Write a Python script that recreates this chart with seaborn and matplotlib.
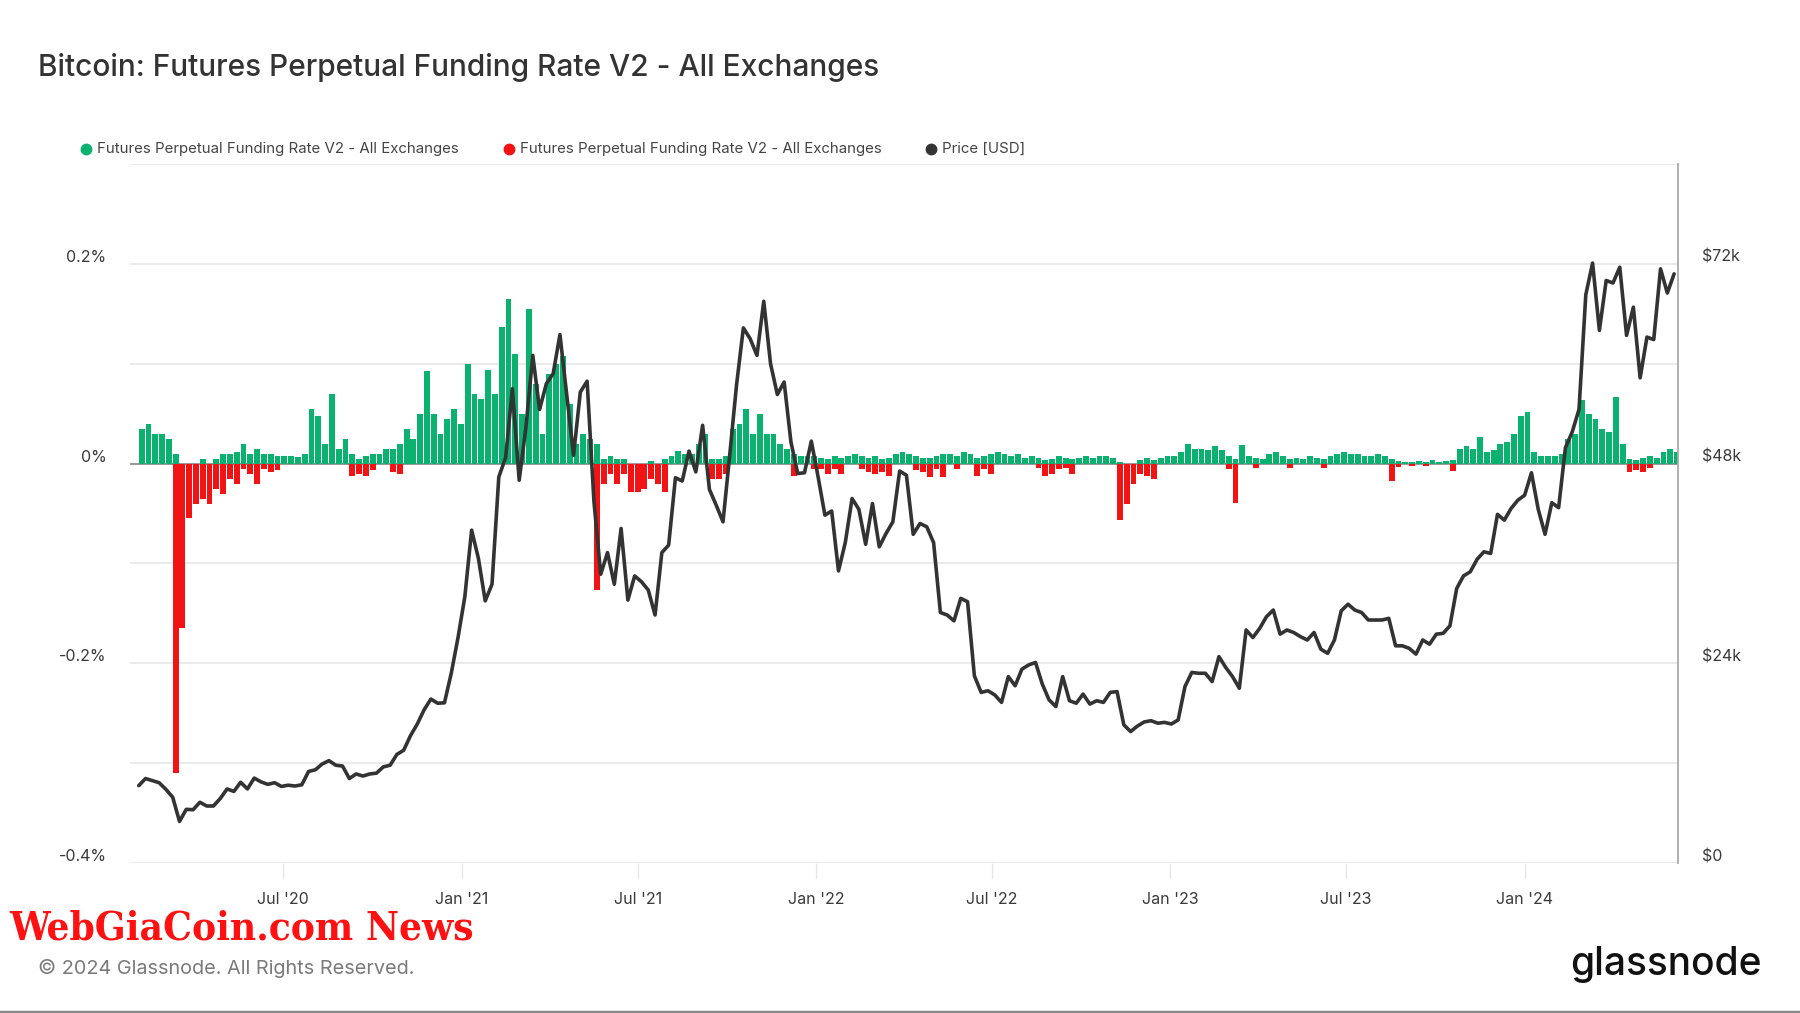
import numpy as np
import pandas as pd
import matplotlib
matplotlib.use("Agg")
import matplotlib.pyplot as plt
from matplotlib.lines import Line2D
from matplotlib.transforms import ScaledTranslation
import seaborn as sns

# ---------------- data (weekly samples, first week starts 2020-02-03) ----------------
price_usd = [
    # 2020
    9300, 10150, 9900, 9650, 8850, 7900, 5000, 6450, 6400, 7300, 6850, 6850,
    7750, 8900, 8600, 9700, 8900, 10200, 9750, 9450, 9650, 9200, 9350, 9250,
    9400, 11000, 11200, 11900, 12300, 11750, 11650, 10150, 10700, 10450, 10700, 10800,
    11550, 11750, 13050, 13550, 15300, 16700, 18400, 19700, 19200, 19250, 22800, 27100,
    # 2021
    32000, 40000, 36600, 31500, 33500, 46400, 48700, 57000, 46000, 52400, 61000, 54500,
    57600, 58800, 63500, 56200, 49000, 56600, 57900, 43500, 34700, 37300, 33500, 40200,
    31600, 34500, 33800, 32800, 29800, 37300, 38200, 46300, 45900, 49500, 47000, 52600,
    44900, 43000, 41000, 49100, 57500, 64300, 63000, 61000, 67500, 60000, 56300, 57800,
    50600, 46800, 46900, 50700,
    # 2022
    46400, 41800, 42300, 35100, 38500, 43800, 42500, 38300, 43200, 38000, 39600, 41000,
    47100, 46600, 39500, 40800, 40400, 38500, 30100, 29800, 29100, 31800, 31400, 22500,
    20500, 20700, 20200, 19300, 22400, 21300, 23300, 23800, 24100, 21500, 19600, 18800,
    22400, 19500, 19200, 20300, 19100, 19500, 19300, 20500, 20600, 16600, 15800, 16450,
    16950, 17100, 16800, 16900, 16700,
    # 2023
    17200, 21200, 22900, 22800, 22800, 21800, 24800, 23500, 22400, 21000, 28000, 27100,
    28200, 29600, 30400, 27500, 28000, 27700, 27200, 26800, 27700, 25700, 25200, 26800,
    30300, 31100, 30400, 30100, 29200, 29200, 29200, 29400, 26100, 26100, 25800, 25100,
    26800, 26300, 27500, 27600, 28500, 33000, 34500, 35000, 36500, 37400, 37200, 41900,
    41200, 42600, 43600,
    # 2024
    44200, 46900, 42500, 39500, 43300, 42700, 49900, 51800, 54500, 68300, 72100, 64000,
    70000, 69700, 71600, 63400, 66800, 58300, 63200, 62900, 71400, 68500, 70800,
]

funding_pos = [
    # 2020
    0.035, 0.040, 0.030, 0.030, 0.025, 0.010, 0.000, 0.000, 0.000, 0.005, 0.000, 0.005,
    0.010, 0.010, 0.012, 0.020, 0.010, 0.015, 0.010, 0.010, 0.008, 0.008, 0.008, 0.007,
    0.010, 0.055, 0.048, 0.020, 0.070, 0.015, 0.025, 0.010, 0.005, 0.008, 0.010, 0.010,
    0.015, 0.015, 0.020, 0.035, 0.025, 0.050, 0.093, 0.050, 0.030, 0.045, 0.055, 0.040,
    # 2021
    0.100, 0.070, 0.065, 0.094, 0.070, 0.137, 0.165, 0.110, 0.050, 0.155, 0.080, 0.030,
    0.090, 0.100, 0.108, 0.060, 0.020, 0.030, 0.025, 0.020, 0.005, 0.008, 0.005, 0.005,
    0.000, 0.000, 0.000, 0.003, 0.000, 0.005, 0.008, 0.013, 0.010, 0.010, 0.020, 0.030,
    0.005, 0.005, 0.008, 0.035, 0.040, 0.055, 0.030, 0.050, 0.030, 0.030, 0.020, 0.015,
    0.010, 0.008, 0.008, 0.008,
    # 2022
    0.006, 0.005, 0.008, 0.006, 0.008, 0.010, 0.008, 0.006, 0.008, 0.005, 0.006, 0.010,
    0.012, 0.010, 0.008, 0.006, 0.006, 0.008, 0.010, 0.010, 0.008, 0.012, 0.010, 0.006,
    0.008, 0.010, 0.012, 0.010, 0.008, 0.010, 0.006, 0.008, 0.006, 0.004, 0.005, 0.008,
    0.006, 0.005, 0.006, 0.008, 0.006, 0.008, 0.008, 0.006, 0.002, 0.000, 0.000, 0.004,
    0.006, 0.004, 0.006, 0.008, 0.008,
    # 2023
    0.012, 0.020, 0.015, 0.015, 0.014, 0.018, 0.014, 0.008, 0.005, 0.019, 0.008, 0.006,
    0.005, 0.010, 0.012, 0.008, 0.005, 0.006, 0.005, 0.008, 0.006, 0.005, 0.008, 0.010,
    0.012, 0.010, 0.010, 0.008, 0.008, 0.010, 0.008, 0.005, 0.003, 0.002, 0.002, 0.003,
    0.002, 0.004, 0.002, 0.003, 0.004, 0.015, 0.018, 0.015, 0.027, 0.012, 0.014, 0.020,
    0.022, 0.030, 0.048,
    # 2024
    0.052, 0.012, 0.008, 0.008, 0.008, 0.010, 0.025, 0.030, 0.064, 0.050, 0.045, 0.035,
    0.032, 0.067, 0.020, 0.005, 0.004, 0.006, 0.008, 0.006, 0.012, 0.015, 0.012,
]

funding_neg = [
    # 2020
    0.000, 0.000, 0.000, 0.000, 0.000, -0.310, -0.165, -0.055, -0.040, -0.035, -0.040, -0.025,
    -0.030, -0.015, -0.020, -0.005, -0.010, -0.020, -0.005, -0.008, -0.006, 0.000, 0.000, 0.000,
    0.000, 0.000, 0.000, 0.000, 0.000, 0.000, 0.000, -0.012, -0.010, -0.012, -0.006, 0.000,
    0.000, -0.008, -0.010, 0.000, 0.000, 0.000, 0.000, 0.000, 0.000, 0.000, 0.000, 0.000,
    # 2021
    0.000, 0.000, 0.000, 0.000, 0.000, 0.000, 0.000, 0.000, 0.000, 0.000, 0.000, 0.000,
    0.000, 0.000, 0.000, 0.000, 0.000, 0.000, 0.000, -0.127, -0.020, -0.010, -0.020, -0.010,
    -0.028, -0.028, -0.025, -0.015, -0.020, -0.028, 0.000, 0.000, 0.000, 0.000, 0.000, 0.000,
    -0.015, -0.015, -0.010, 0.000, 0.000, 0.000, 0.000, 0.000, 0.000, 0.000, 0.000, 0.000,
    -0.012, 0.000, 0.000, -0.005,
    # 2022
    -0.005, -0.010, -0.005, -0.010, 0.000, 0.000, -0.005, -0.008, -0.010, -0.008, -0.012, 0.000,
    0.000, 0.000, -0.006, -0.008, -0.013, -0.005, -0.013, 0.000, -0.005, 0.000, 0.000, -0.012,
    -0.005, -0.010, 0.000, 0.000, 0.000, 0.000, 0.000, 0.000, -0.004, -0.012, -0.010, -0.005,
    -0.004, -0.010, 0.000, 0.000, 0.000, 0.000, 0.000, 0.000, -0.057, -0.040, -0.020, -0.010,
    -0.012, -0.015, 0.000, 0.000, 0.000,
    # 2023
    0.000, 0.000, 0.000, 0.000, 0.000, 0.000, 0.000, -0.005, -0.039, 0.000, 0.000, -0.004,
    0.000, 0.000, 0.000, 0.000, -0.004, 0.000, 0.000, 0.000, 0.000, -0.004, 0.000, 0.000,
    0.000, 0.000, 0.000, 0.000, 0.000, 0.000, 0.000, -0.017, -0.003, 0.000, -0.002, 0.000,
    -0.002, 0.000, 0.000, 0.000, -0.007, 0.000, 0.000, 0.000, 0.000, 0.000, 0.000, 0.000,
    0.000, 0.000, 0.000,
    # 2024
    0.000, 0.000, 0.000, 0.000, 0.000, 0.000, 0.000, 0.000, 0.000, 0.000, 0.000, 0.000,
    0.000, 0.000, 0.000, -0.008, -0.006, -0.008, -0.004, 0.000, 0.000, 0.000, 0.000,
]

left_tick_values = [-0.4, -0.2, 0.0, 0.2]
left_tick_labels = ["-0.4%", "-0.2%", "0%", "0.2%"]
right_tick_values = [0, 24000, 48000, 72000]
right_tick_labels = ["$0", "$24k", "$48k", "$72k"]
x_tick_dates = ["2020-07-01", "2021-01-01", "2021-07-01", "2022-01-01",
                "2022-07-01", "2023-01-01", "2023-07-01", "2024-01-01"]
x_tick_labels = ["Jul '20", "Jan '21", "Jul '21", "Jan '22",
                 "Jul '22", "Jan '23", "Jul '23", "Jan '24"]

series_label = "Futures Perpetual Funding Rate V2 - All Exchanges"
title = "Bitcoin: Futures Perpetual Funding Rate V2 - All Exchanges"

df = pd.DataFrame({
    "date": pd.date_range("2020-02-03", periods=len(price_usd), freq="7D"),
    "price": price_usd,
    "pos": funding_pos,
    "neg": funding_neg,
})

# ---------------- style ----------------
sns.set_theme(style="white")
plt.rcParams["font.family"] = ["Inter", "DejaVu Sans"]

GREEN = "#0bb26f"
RED = "#f21414"
DARK = "#333333"
GRID = "#e6e6e6"
TXT = "#3a3a3a"

fig = plt.figure(figsize=(18, 10.13), dpi=100)
ax = fig.add_axes([130 / 1800, 1 - 863 / 1013, (1678 - 130) / 1800, (863 - 164) / 1013])
ax2 = ax.twinx()

# horizontal grid every 0.1 %
for gy in np.round(np.arange(-0.4, 0.31, 0.1), 2):
    ax.axhline(gy, color=GRID, lw=1.2, zorder=0)

# bars (each bar spans its week)
ax.bar(df["date"], df["pos"], width=6, align="edge", color=GREEN, linewidth=0, zorder=3)
ax.bar(df["date"], df["neg"], width=6, align="edge", color=RED, linewidth=0, zorder=3)
ax.axhline(0, color="#8a8a8a", lw=1.2, zorder=2)

# price
sns.lineplot(data=df, x="date", y="price", ax=ax2, color=DARK, lw=2.6, zorder=5)

# axes limits
x0, x1 = pd.Timestamp("2020-01-25"), pd.Timestamp("2024-06-07")
ax.set_xlim(x0, x1)
ax.set_ylim(-0.4, 0.3)
ax2.set_ylim(0, 84000)

for sp in ["left", "top", "bottom", "right"]:
    ax.spines[sp].set_visible(False)
    ax2.spines[sp].set_visible(False)
ax2.spines["right"].set_visible(True)
ax2.spines["right"].set_color("#aaaaaa")
ax2.spines["right"].set_linewidth(1.3)
ax.grid(False)
ax2.grid(False)

off = ScaledTranslation(0, 8 / 100, fig.dpi_scale_trans)

# left labels
ax.set_yticks(left_tick_values)
ax.set_yticklabels(left_tick_labels)
ax.tick_params(axis="y", length=0, pad=17, labelsize=11.5, labelcolor=TXT, left=True, labelleft=True)
for lab in ax.get_yticklabels():
    lab.set_transform(lab.get_transform() + off)

# right labels
ax2.set_yticks(right_tick_values)
ax2.set_yticklabels(right_tick_labels)
ax2.tick_params(axis="y", length=0, pad=17, labelsize=11.5, labelcolor=TXT)
for lab in ax2.get_yticklabels():
    lab.set_transform(lab.get_transform() + off)
ax2.set_ylabel("")
ax2.set_xlabel("")
ax.set_xlabel("")
ax.set_ylabel("")

# x ticks
ax.set_xticks(pd.to_datetime(x_tick_dates))
ax.set_xticklabels(x_tick_labels)
ax.tick_params(axis="x", direction="out", length=11, width=1, color=GRID,
               pad=10, labelsize=11.5, labelcolor=TXT, bottom=True)
ax2.tick_params(axis="x", bottom=False, labelbottom=False)

# ---------------- figure texts ----------------
fig.text(38 / 1800, 1 - 67 / 1013, title, fontsize=21.5, color="#333333",
         fontweight="medium", va="center", ha="left")

leg_y = 1 - 149 / 1013
leg_items = [(86, GREEN, series_label), (509, RED, series_label), (931, DARK, "Price [USD]")]
for xpx, col, lab in leg_items:
    fig.add_artist(Line2D([xpx / 1800], [leg_y], marker="o", markersize=7.5,
                          color=col, linestyle="none", transform=fig.transFigure))
    fig.text((xpx + 11) / 1800, leg_y, lab, fontsize=10.8, color="#444444",
             va="center", ha="left")

fig.text(9 / 1800, 1 - 928 / 1013, "WebGiaCoin.com News", fontsize=29, color="#ff1111",
         fontweight="bold", family=["DejaVu Serif"], fontstretch="condensed",
         va="center", ha="left")
fig.text(38 / 1800, 1 - 968 / 1013, "© 2024 Glassnode. All Rights Reserved.",
         fontsize=14.3, color="#7a7a7a", va="center", ha="left")
fig.text(1762 / 1800, 1 - 964 / 1013, "glassnode", fontsize=28, color="#111111",
         fontweight="medium", va="center", ha="right")

fig.add_artist(Line2D([0, 1], [1.5 / 1013, 1.5 / 1013], color="#888888", lw=2.5,
                      transform=fig.transFigure))

fig.savefig("out.png", dpi=100, facecolor="white")
